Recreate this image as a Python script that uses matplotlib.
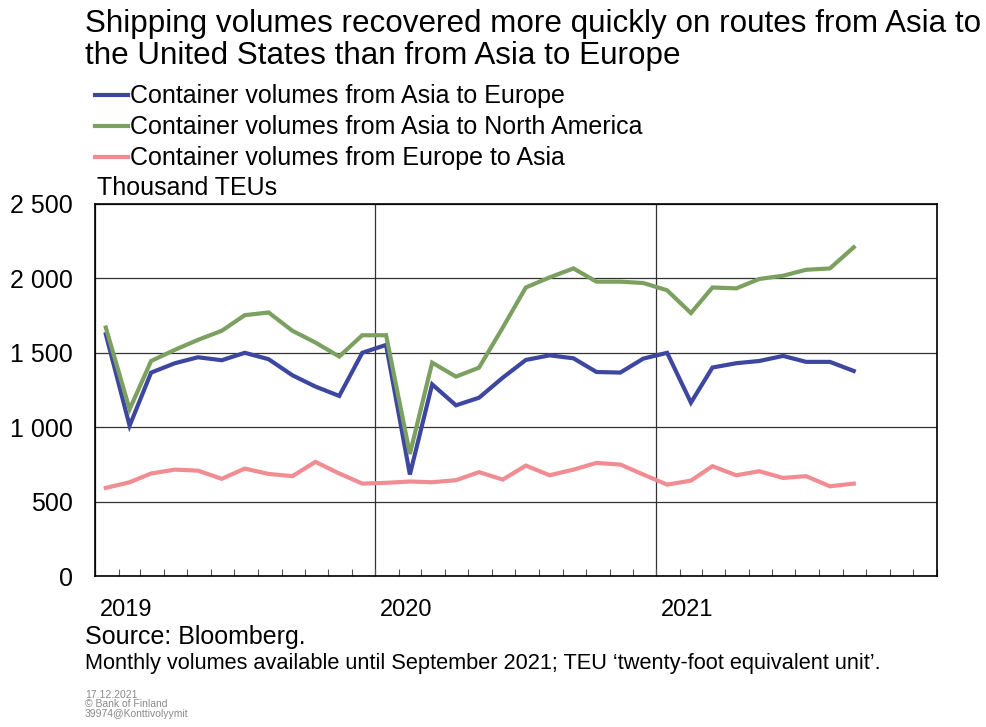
import matplotlib.pyplot as plt
import matplotlib.dates as mdates
import matplotlib.ticker as mticker
import pandas as pd

plt.rcParams['font.family'] = ['Liberation Sans', 'DejaVu Sans']

# --- Data (thousand TEUs, monthly Jan 2019 - Sep 2021) ---
months = pd.date_range('2019-01-01', '2021-09-01', freq='MS') + pd.Timedelta(days=14)

asia_europe = [1625, 1010, 1367, 1430, 1470, 1450, 1500, 1457, 1349, 1273, 1210, 1500,
               1553, 682, 1288, 1147, 1198, 1333, 1452, 1483, 1463, 1371, 1367, 1461,
               1500, 1165, 1401, 1430, 1445, 1479, 1439, 1439, 1378]
asia_namerica = [1670, 1120, 1445, 1520, 1587, 1648, 1753, 1771, 1648, 1569, 1475, 1618,
                 1618, 820, 1434, 1340, 1400, 1670, 1939, 2007, 2067, 1978, 1978, 1969,
                 1920, 1767, 1939, 1933, 1996, 2018, 2058, 2067, 2209]
europe_asia = [592, 630, 689, 715, 708, 653, 722, 686, 671, 767, 689, 621,
               626, 635, 630, 644, 698, 648, 742, 677, 715, 760, 749, 682,
               614, 641, 738, 677, 704, 659, 671, 603, 621]

series_labels = ["Container volumes from Asia to Europe",
                 "Container volumes from Asia to North America",
                 "Container volumes from Europe to Asia"]
series_colors = ["#3D47A0", "#7BA060", "#F08C92"]
year_labels = ["2019", "2020", "2021"]

fig = plt.figure(figsize=(9.87, 7.27), dpi=100)
ax = fig.add_axes([0.0963, 0.2077, 0.8527, 0.5117])

for vals, lab, col in zip([asia_europe, asia_namerica, europe_asia], series_labels, series_colors):
    ax.plot(months, vals, color=col, lw=3, label=lab, solid_joinstyle='miter')

ax.set_xlim(pd.Timestamp('2019-01-01'), pd.Timestamp('2022-01-01'))
ax.set_ylim(0, 2500)
ax.yaxis.set_major_locator(mticker.MultipleLocator(500))
ax.yaxis.set_major_formatter(mticker.FuncFormatter(lambda v, p: f"{int(v):,}".replace(",", " ")))
ax.tick_params(axis='y', length=0, labelsize=18, pad=16)

ax.xaxis.set_major_locator(mdates.YearLocator())
ax.xaxis.set_minor_locator(mdates.MonthLocator())
ax.xaxis.set_major_formatter(mticker.NullFormatter())
ax.tick_params(axis='x', which='both', direction='in', length=5, width=0.8, color='#555555')

ax.grid(True, axis='y', color='#333333', lw=0.9)
ax.grid(True, axis='x', which='major', color='#333333', lw=0.9)
for s in ax.spines.values():
    s.set_color('black')
    s.set_linewidth(1.2)

# year labels under the axis
for y in year_labels:
    ax.text(pd.Timestamp(f'{y}-02-10'), -0.062, y, transform=ax.get_xaxis_transform(),
            ha='center', va='top', fontsize=17)

fig.text(0.086, 0.988, "Shipping volumes recovered more quickly on routes from Asia to\n"
         "the United States than from Asia to Europe",
         ha='left', va='top', fontsize=22.6, linespacing=1.08)

fig.legend(loc='upper left', bbox_to_anchor=(0.096, 0.884), frameon=False, fontsize=18,
           handlelength=1.32, handletextpad=0.1, labelspacing=0.28, borderaxespad=0, borderpad=0)

ax.text(0.002, 1.01, "Thousand TEUs", transform=ax.transAxes, ha='left', va='bottom', fontsize=18)

fig.text(0.086, 0.124, "Source: Bloomberg.", ha='left', va='center', fontsize=18)
fig.text(0.086, 0.087, "Monthly volumes available until September 2021; TEU \u2018twenty-foot equivalent unit\u2019.",
         ha='left', va='center', fontsize=15.7)
fig.text(0.086, 0.031, "17.12.2021\n\u00a9 Bank of Finland\n39974@Konttivolyymit",
         ha='left', va='center', fontsize=7.5, color='#8a8a8a', linespacing=0.95)

fig.savefig("out.png", dpi=100)
